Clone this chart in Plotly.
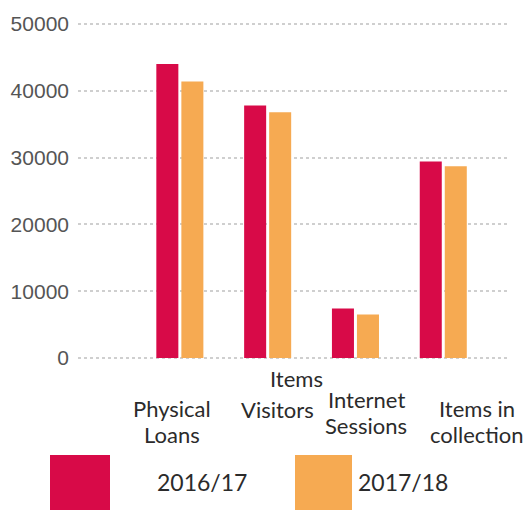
import plotly.graph_objects as go

# Library usage figures, two reporting years
categories = ["Physical Loans", "Visitors", "Internet Sessions", "Items in collection"]
year_2016_17 = [44000, 37800, 7400, 29400]
year_2017_18 = [41400, 36800, 6500, 28700]
series_names = ["2016/17", "2017/18"]
y_ticks = [0, 10000, 20000, 30000, 40000, 50000]

RED = "#D80A48"
ORANGE = "#F6AA52"
TEXT = "#2b2b2b"
LABEL_FONT = "Lato"

fig = go.Figure()
fig.add_trace(go.Bar(x=categories, y=year_2016_17, name=series_names[0],
                     marker=dict(color=RED, line_width=0), showlegend=False))
fig.add_trace(go.Bar(x=categories, y=year_2017_18, name=series_names[1],
                     marker=dict(color=ORANGE, line_width=0), showlegend=False))

W, H = 528, 510
ML, MR, MT, MB = 78, 18, 22, 150
plot_h = H - MT - MB


def py(pixel_y):
    """Convert a page pixel row to paper y."""
    return (H - MB - pixel_y) / plot_h


# category labels, line by line: (text, category index, x shift, centre row)
label_lines = [
    ("Physical", 0, -8, 408), ("Loans", 0, -8, 435),
    ("Visitors", 1, 10, 409),
    ("Internet", 2, 11, 399), ("Sessions", 2, 11, 426),
    ("Items in", 3, 34, 408), ("collection", 3, 34, 435),
    ("Items", 1, 29, 378),
]
annotations = []
for text, idx, shift, row in label_lines:
    annotations.append(dict(
        text=text, x=categories[idx], xref="x", xshift=shift,
        y=py(row), yref="paper", yanchor="middle", xanchor="center",
        showarrow=False, font=dict(family=LABEL_FONT, size=22, color=TEXT)))

# legend drawn as large swatches with labels
legend_items = [(series_names[0], RED, 50, 110, 202),
                (series_names[1], ORANGE, 295, 352, 403)]
shapes = []
for name, color, x0, x1, tx in legend_items:
    shapes.append(dict(type="rect", xref="paper", yref="paper",
                       x0=(x0 - ML) / (W - ML - MR), x1=(x1 - ML) / (W - ML - MR),
                       y0=py(520), y1=py(455), fillcolor=color, line_width=0,
                       layer="above"))
    annotations.append(dict(
        text=name, x=(tx - ML) / (W - ML - MR), xref="paper", xanchor="center",
        y=py(482), yref="paper", yanchor="middle", showarrow=False,
        font=dict(family=LABEL_FONT, size=23, color=TEXT)))

fig.update_layout(
    width=W, height=H,
    margin=dict(l=ML, r=MR, t=MT, b=MB, pad=0),
    paper_bgcolor="white", plot_bgcolor="white",
    barmode="group", bargap=0.43, bargroupgap=0.12,
    xaxis=dict(type="category", range=[-1.16, 3.76], showticklabels=False,
               showgrid=False, zeroline=False, showline=False, ticks=""),
    yaxis=dict(range=[-300, 50300], tickvals=y_ticks,
               ticktext=[str(v) for v in y_ticks],
               tickfont=dict(family="Liberation Sans", size=21, color="#555555"),
               showgrid=True, gridcolor="#cfcfcf", gridwidth=1.5, griddash="dot",
               zeroline=False, showline=False, ticks="", ticklabelstandoff=8),
    annotations=annotations, shapes=shapes,
)

fig.write_html("out.html")
